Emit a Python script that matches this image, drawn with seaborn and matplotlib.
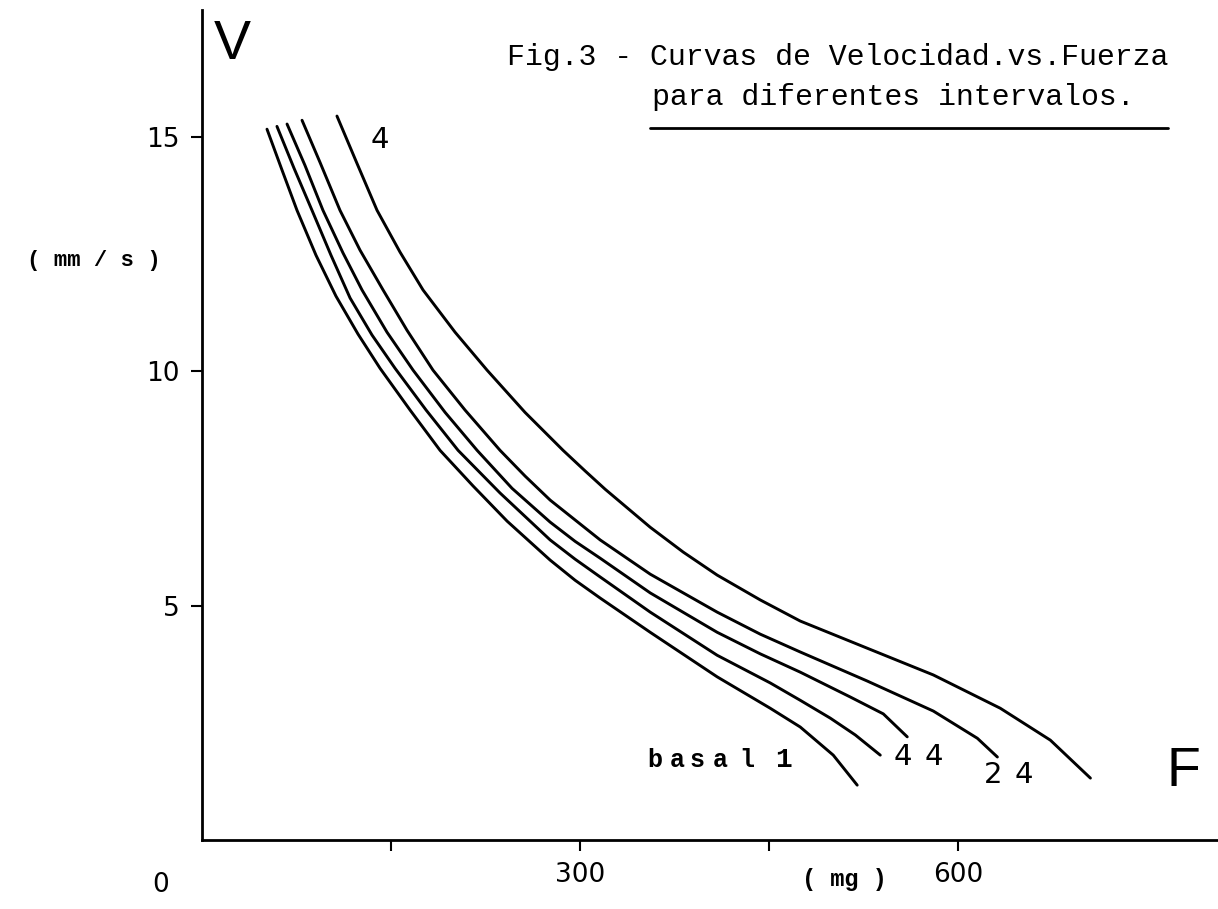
import numpy as np
import pandas as pd
import matplotlib.pyplot as plt
import seaborn as sns
from matplotlib.lines import Line2D

sns.set_theme(style='white')
plt.rcParams['font.family'] = ['DejaVu Sans']
plt.rcParams['text.color'] = 'black'
plt.rcParams['xtick.color'] = 'black'
plt.rcParams['ytick.color'] = 'black'

# Curvas velocidad (mm/s) vs fuerza (mg)
fuerza_a = [51.6, 63.5, 75.4, 90.5, 106.3, 123.8, 141.3, 165.1, 188.9, 215.1,
            242.1, 276.2, 296.0, 315.9, 355.6, 408.7, 450.8, 474.6, 500.8, 519.8]
vel_a = [15.16, 14.29, 13.43, 12.47, 11.60, 10.79, 10.06, 9.17, 8.31, 7.55,
         6.80, 5.97, 5.54, 5.16, 4.43, 3.48, 2.81, 2.41, 1.81, 1.17]

fuerza_b = [59.5, 73.0, 87.3, 102.4, 117.5, 134.9, 153.2, 177.8, 203.2, 236.5,
            276.2, 296.0, 315.9, 355.6, 408.7, 450.8, 474.6, 498.4, 518.3, 538.1]
vel_b = [15.22, 14.33, 13.43, 12.47, 11.56, 10.77, 10.06, 9.17, 8.31, 7.40,
         6.40, 5.99, 5.61, 4.86, 3.94, 3.35, 2.98, 2.60, 2.24, 1.81]

fuerza_c = [67.5, 81.7, 96.0, 111.9, 127.0, 146.8, 167.5, 192.9, 218.3, 246.0,
            276.2, 296.0, 315.9, 355.6, 408.7, 442.9, 474.6, 514.3, 540.5, 559.5]
vel_c = [15.27, 14.39, 13.43, 12.52, 11.73, 10.83, 10.02, 9.12, 8.31, 7.50,
         6.78, 6.37, 6.01, 5.27, 4.43, 3.97, 3.58, 3.05, 2.69, 2.20]

fuerza_d = [79.4, 93.7, 109.5, 125.4, 143.7, 162.7, 183.3, 208.7, 236.5, 256.4,
            276.2, 315.9, 355.6, 408.7, 442.9, 474.6, 527.8, 580.2, 615.1, 631.0]
vel_d = [15.35, 14.45, 13.43, 12.58, 11.73, 10.87, 10.02, 9.17, 8.31, 7.76,
         7.25, 6.40, 5.67, 4.86, 4.39, 4.01, 3.39, 2.75, 2.17, 1.77]

fuerza_e = [107.1, 123.0, 138.9, 157.1, 175.4, 200.8, 226.2, 256.3, 286.5, 304.0,
            319.9, 355.6, 381.8, 408.7, 442.9, 474.6, 527.8, 580.2, 633.3, 673.0,
            704.8]
vel_e = [15.44, 14.43, 13.43, 12.54, 11.73, 10.83, 10.02, 9.12, 8.31, 7.87,
         7.48, 6.67, 6.14, 5.65, 5.12, 4.67, 4.09, 3.52, 2.81, 2.13,
         1.32]

curvas = ['a', 'b', 'c', 'd', 'e']
x_ticks = [150, 300, 450, 600]
x_ticklabels = ['', '300', '', '600']
y_ticks = [5, 10, 15]
y_ticklabels = ['5', '10', '15']

frames = []
for name, f, v in zip(curvas,
                      [fuerza_a, fuerza_b, fuerza_c, fuerza_d, fuerza_e],
                      [vel_a, vel_b, vel_c, vel_d, vel_e]):
    frames.append(pd.DataFrame({'F': f, 'V': v, 'curva': name}))
df = pd.concat(frames, ignore_index=True)

fig = plt.figure(figsize=(12.18, 9.09), dpi=100)
fig.patch.set_facecolor('white')
ax = fig.add_axes([0.1658, 0.0759, 0.8342, 0.913])

sns.lineplot(data=df, x='F', y='V', hue='curva', estimator=None, sort=False,
             palette={c: 'black' for c in curvas}, linewidth=2.1,
             legend=False, ax=ax)
for ln in ax.lines:
    ln.set_solid_joinstyle('round')
    ln.set_solid_capstyle('round')

ax.set_xlim(0, 806)
ax.set_ylim(0, 17.7)
ax.set_xticks(x_ticks)
ax.set_xticklabels(x_ticklabels)
ax.set_yticks(y_ticks)
ax.set_yticklabels(y_ticklabels)
ax.set_xlabel('')
ax.set_ylabel('')
ax.tick_params(direction='out', length=8, width=1.5, colors='black',
               labelsize=19, pad=8, left=True, bottom=True)
for s in ['top', 'right']:
    ax.spines[s].set_visible(False)
for s in ['left', 'bottom']:
    ax.spines[s].set_color('black')
    ax.spines[s].set_linewidth(2.0)
ax.set_facecolor('white')

mono = 'Liberation Mono'
sans = 'Liberation Sans'

# textos del eje
ax.text(-33, -0.96, '0', fontsize=19, ha='center', va='center', clip_on=False)
ax.text(510, -0.85, '( mg )', family=mono, fontweight='bold', fontsize=17,
        ha='center', va='center', clip_on=False)
ax.text(-86, 12.37, '( mm / s )', family=mono, fontweight='bold', fontsize=16,
        ha='center', va='center', clip_on=False)
ax.text(23.8, 16.95, 'V', family=sans, fontsize=40, ha='center', va='center')
ax.text(778.6, 1.45, 'F', family=sans, fontsize=40, ha='center', va='center')

# etiquetas de las curvas
ax.text(141.3, 14.93, '4', fontsize=21, ha='center', va='center')
for ch, xf in zip('basal', [359.5, 377.0, 392.9, 411.1, 432.5]):
    ax.text(xf, 1.71, ch, family=mono, fontweight='bold', fontsize=18,
            ha='center', va='center')
ax.text(461.1, 1.71, '1', family=mono, fontweight='bold', fontsize=20,
        ha='center', va='center')
ax.text(555.6, 1.77, '4', fontsize=21, ha='center', va='center')
ax.text(580.2, 1.77, '4', fontsize=21, ha='center', va='center')
ax.text(627.8, 1.39, '2', fontsize=21, ha='center', va='center')
ax.text(651.6, 1.39, '4', fontsize=21, ha='center', va='center')

# titulo
fig.text(0.416, 0.937, 'Fig.3 - Curvas de Velocidad.vs.Fuerza', family=mono,
         fontsize=21.5, ha='left', va='center')
fig.text(0.535, 0.893, 'para diferentes intervalos.', family=mono,
         fontsize=21.5, ha='left', va='center')
fig.add_artist(Line2D([0.534, 0.959], [0.859, 0.859], color='black', lw=2.0,
                      transform=fig.transFigure))

fig.savefig('out.png', dpi=100)
